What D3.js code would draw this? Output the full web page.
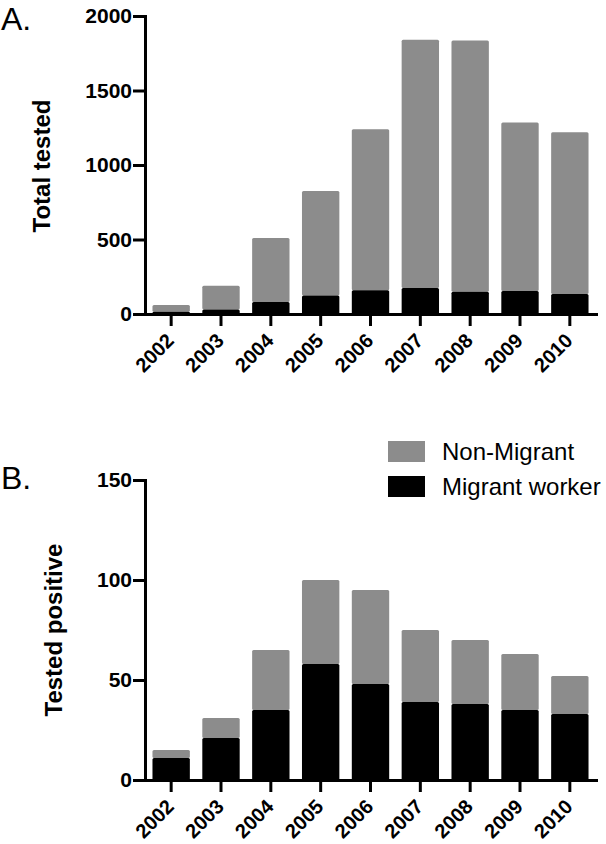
<!DOCTYPE html>
<html>
<head>
<meta charset="utf-8">
<script src="https://cdn.jsdelivr.net/npm/d3@7"></script>
<style>
  html, body { margin: 0; padding: 0; background: #fff; }
  svg { display: block; font-family: "Liberation Sans", Arial, Helvetica, sans-serif; }
  .axis path, .axis line { stroke: #000; stroke-width: 3; }
  .axis text { font-size: 21px; font-weight: bold; fill: #000; }
  .axis.x text { font-size: 20px; }
</style>
</head>
<body>
<div id="chart"></div>
<script>
//Datos
const years = ['2002','2003','2004','2005','2006','2007','2008','2009','2010'];
const testedMigrant = [15, 30, 80, 125, 160, 175, 150, 155, 135];
const testedNonMigrant = [45, 160, 430, 700, 1080, 1665, 1685, 1130, 1085];
const positiveMigrant = [11, 21, 35, 58, 48, 39, 38, 35, 33];
const positiveNonMigrant = [4, 10, 30, 42, 47, 36, 32, 28, 19];
const seriesKeys = ['Migrant worker', 'Non-Migrant'];
const legendKeys = ['Non-Migrant', 'Migrant worker'];
const testedTicks = [0, 500, 1000, 1500, 2000];
const positiveTicks = [0, 50, 100, 150];

const COLOR_GREY = '#8c8c8c', COLOR_BLACK = '#000000';

let width = 606, height = 844;

let svg = d3.select('#chart')
    .append('svg')
      .attr('width', width)
      .attr('height', height);

let color = d3.scaleOrdinal()
    .domain(seriesKeys)
    .range([COLOR_BLACK, COLOR_GREY]);

//Eje X compartido
let x = d3.scaleBand()
    .domain(years)
    .range([145, 596])
    .paddingInner(0.25)
    .paddingOuter(0.15);

function drawPanel(migrant, nonMigrant, ticks, yRange, title, titleX, titleY, letter, letterY) {
    let data = years.map(function(y, i) {
        return { year: y, 'Migrant worker': migrant[i], 'Non-Migrant': nonMigrant[i] };
    });

    let y = d3.scaleLinear()
        .domain([0, d3.max(ticks)])
        .range(yRange);

    let stacked = d3.stack().keys(seriesKeys)(data);

    let g = svg.append('g');

    //Barras
    g.selectAll('g.serie')
        .data(stacked.slice().reverse())
        .enter()
        .append('g')
        .attr('class', 'serie')
        .attr('fill', function(d) { return color(d.key); })
        .selectAll('rect')
        .data(function(d) { return d; })
        .enter()
        .append('rect')
          .attr('x', function(d) { return x(d.data.year); })
          .attr('width', x.bandwidth())
          .attr('y', function(d) { return y(d[1]); })
          .attr('height', function(d) { return y(d[0]) - y(d[1]); })
          .attr('rx', 1.5);

    //Eje X
    g.append('g')
        .attr('class', 'axis x')
        .attr('transform', 'translate(0,' + yRange[0] + ')')
        .call(d3.axisBottom(x).tickSize(12).tickSizeOuter(0))
        .selectAll('text')
          .attr('x', 0)
          .attr('y', 0)
          .attr('dy', 0)
          .attr('text-anchor', 'end')
          .attr('transform', 'translate(4,28) rotate(-45)');

    //Eje Y
    g.append('g')
        .attr('class', 'axis')
        .attr('transform', 'translate(145,0)')
        .call(d3.axisLeft(y).tickValues(ticks).tickFormat(d3.format('d')).tickSize(12).tickSizeOuter(0).tickPadding(1));

    g.selectAll('.axis path').attr('stroke-linecap', 'square');

    //Título eje
    g.append('text')
        .attr('transform', 'translate(' + titleX + ',' + titleY + ') rotate(-90)')
        .attr('text-anchor', 'middle')
        .style('font-size', '24px')
        .style('font-weight', 'bold')
        .text(title);

    //Letra del panel
    g.append('text')
        .attr('x', 1)
        .attr('y', letterY)
        .style('font-size', '32px')
        .text(letter);
}

drawPanel(testedMigrant, testedNonMigrant, testedTicks, [314, 16], 'Total tested', 50, 166, 'A.', 30);
drawPanel(positiveMigrant, positiveNonMigrant, positiveTicks, [780, 480], 'Tested positive', 62, 630, 'B.', 489);

//Leyenda
let legend = svg.append('g')
    .attr('transform', 'translate(388,441)');

let items = legend.selectAll('g')
    .data(legendKeys)
    .enter()
    .append('g')
    .attr('transform', function(d, i) { return 'translate(0,' + (i * 35) + ')'; });

items.append('rect')
    .attr('width', 37)
    .attr('height', 21)
    .attr('fill', function(d) { return color(d); });

items.append('text')
    .attr('x', 54)
    .attr('y', 19)
    .style('font-size', '24px')
    .text(function(d) { return d; });
</script>
</body>
</html>
